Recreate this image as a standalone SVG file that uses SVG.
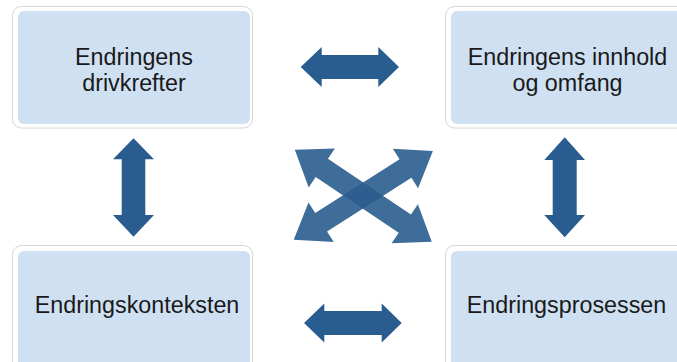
<svg xmlns="http://www.w3.org/2000/svg" width="677" height="362" viewBox="0 0 677 362">
  <style>
    .frame { fill: #ffffff; stroke: #d6d6d6; stroke-width: 1; }
    .panel { fill: #cfe0f2; }
    .label { font-family: "Liberation Sans", Arial, sans-serif; font-size: 23.3px; fill: #1a1a1a; text-anchor: middle; }
    .arrow { fill: #2a5d8f; }
    .cross { fill: #2a5d8f; fill-opacity: 0.9; }
  </style>
  <defs>
    <!-- double-headed arrow for the diagonals, centred on the origin -->
    <path id="diag" d="M -82.5,0 L -50,-23.5 L -50,-11 L 50,-11 L 50,-23.5 L 82.5,0 L 50,23.5 L 50,11 L -50,11 L -50,23.5 Z"/>
  </defs>

  <g id="node-drivkrefter">
    <rect class="frame" x="12.5" y="6.5" width="240" height="121.5" rx="9"/>
    <rect class="panel" x="18" y="11" width="232" height="113" rx="6"/>
    <text class="label" x="134" y="65">Endringens</text>
    <text class="label" x="134" y="91">drivkrefter</text>
  </g>

  <g id="node-innhold">
    <rect class="frame" x="445.5" y="6.5" width="245" height="121.5" rx="9"/>
    <rect class="panel" x="451" y="11" width="236" height="113" rx="6"/>
    <text class="label" x="567.5" y="65">Endringens innhold</text>
    <text class="label" x="567.5" y="91">og omfang</text>
  </g>

  <g id="node-kontekst">
    <rect class="frame" x="12.5" y="245.5" width="240" height="130" rx="9"/>
    <rect class="panel" x="18" y="251" width="232" height="120" rx="6"/>
    <text class="label" x="137" y="313">Endringskonteksten</text>
  </g>

  <g id="node-prosess">
    <rect class="frame" x="445.5" y="245.5" width="245" height="130" rx="9"/>
    <rect class="panel" x="451" y="251" width="236" height="120" rx="6"/>
    <text class="label" x="566.5" y="313">Endringsprosessen</text>
  </g>

  <g id="connectors">
    <!-- top horizontal -->
    <path class="arrow" d="M 300.7,67 L 321.7,47 L 321.7,55 L 378.3,55 L 378.3,47 L 399,67 L 378.3,87 L 378.3,79 L 321.7,79 L 321.7,87 Z"/>
    <!-- bottom horizontal -->
    <path class="arrow" d="M 304,323 L 324.3,303.5 L 324.3,311 L 381.7,311 L 381.7,303.5 L 401.7,323 L 381.7,342.5 L 381.7,335 L 324.3,335 L 324.3,342.5 Z"/>
    <!-- left vertical -->
    <path class="arrow" d="M 133.5,138.3 L 154,159.3 L 145.3,159.3 L 145.3,215 L 154,215 L 133.5,236.7 L 113,215 L 121.7,215 L 121.7,159.3 L 113,159.3 Z"/>
    <!-- right vertical -->
    <path class="arrow" d="M 564.7,137.3 L 585,160 L 576.7,160 L 576.7,215 L 585,215 L 564.7,237.3 L 544.3,215 L 552.7,215 L 552.7,160 L 544.3,160 Z"/>
    <!-- diagonals -->
    <use href="#diag" class="cross" transform="translate(363.3,195.8) rotate(33.9)"/>
    <use href="#diag" class="cross" transform="translate(363.3,195.4) rotate(-32.5)"/>
  </g>
</svg>
